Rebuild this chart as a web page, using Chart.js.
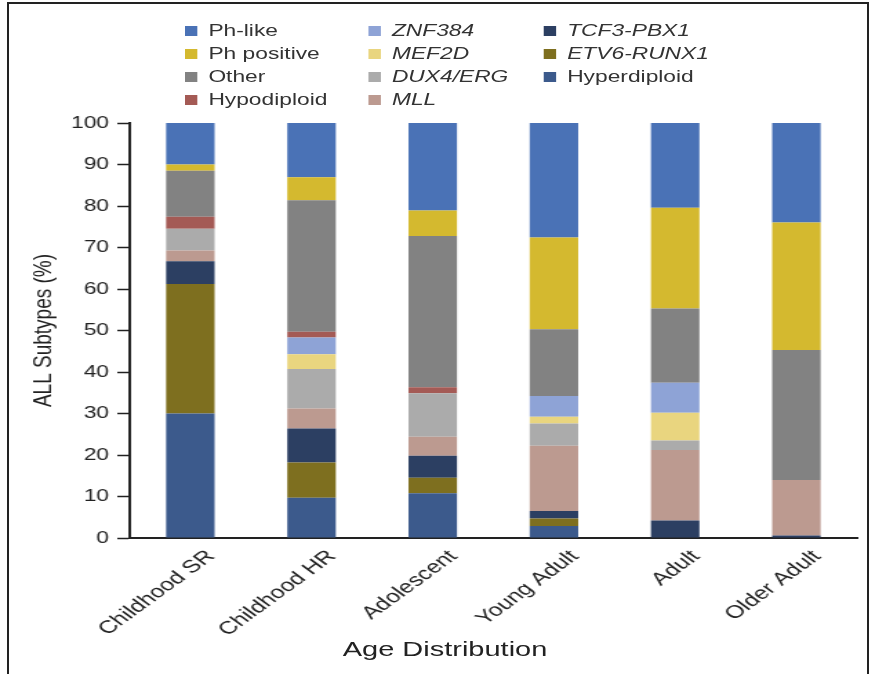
<!DOCTYPE html>
<html>
<head>
  <title>ALL Subtypes by Age</title>
  <script src="https://cdn.jsdelivr.net/npm/chart.js"></script>
  <style>
    body { margin: 0; background: #fff; overflow: hidden; }
    #frame { position: absolute; left: 7px; top: 2px; width: 858px; height: 720px; border: 2px solid #222; }
    /* the source figure is stretched horizontally, so the whole drawing is too */
    #wrap { position: absolute; left: 0; top: 0; width: 632px; height: 674px; transform: scaleX(1.38); transform-origin: 0 0; }
    #legend { position: absolute; left: 134px; top: 19px; display: grid; grid-template-rows: repeat(4, 23px);
      grid-auto-flow: column; grid-template-columns: 133px 127px 120px;
      font-family: "Liberation Sans", Arial, sans-serif; font-size: 16.5px; color: #333; }
    #legend div { display: flex; align-items: center; white-space: nowrap; }
    #legend span.box { width: 9px; height: 10px; margin-right: 8px; display: inline-block; }
    #xtitle { position: absolute; left: 0; width: 645px; top: 637px; text-align: center;
      font-family: "Liberation Sans", Arial, sans-serif; font-size: 21px; color: #222; }
  </style>
</head>
<body>
  <div id="frame"></div>
  <div id="wrap">
    <canvas id="subtypes" width="632" height="674"></canvas>
    <div id="legend"></div>
    <div id="xtitle">Age Distribution</div>
  </div>

  <script>
    // Age groups
    const categories = ['Childhood SR', 'Childhood HR', 'Adolescent', 'Young Adult', 'Adult', 'Older Adult'];

    // Percent of each subtype per age group
    const hyperdiploid = [30, 9.7, 10.8, 2.9, 0, 0];
    const etv6Runx1    = [31.2, 8.5, 3.7, 1.8, 0, 0];
    const tcf3Pbx1     = [5.5, 8.2, 5.3, 1.8, 4.2, 0.6];
    const mll          = [2.6, 4.8, 4.6, 15.7, 17, 13.4];
    const dux4Erg      = [5.2, 9.5, 10.5, 5.4, 2.3, 0];
    const mef2d        = [0, 3.6, 0, 1.6, 6.7, 0];
    const znf384       = [0, 4, 0, 5, 7.2, 0];
    const hypodiploid  = [2.9, 1.4, 1.4, 0, 0, 0];
    const other        = [11.1, 31.7, 36.5, 16.1, 17.9, 31.3];
    const phPositive   = [1.5, 5.5, 6.1, 22.1, 24.3, 30.7];
    const phLike       = [10, 13.1, 21.1, 27.6, 20.4, 24];

    const yTicks = [0, 10, 20, 30, 40, 50, 60, 70, 80, 90, 100];

    // stacking order, bottom to top
    const series = [
      { label: 'Hyperdiploid', data: hyperdiploid, color: '#3c5a8c', italic: false },
      { label: 'ETV6-RUNX1', data: etv6Runx1, color: '#7e6f1f', italic: true },
      { label: 'TCF3-PBX1', data: tcf3Pbx1, color: '#2c3f62', italic: true },
      { label: 'MLL', data: mll, color: '#bc9a90', italic: true },
      { label: 'DUX4/ERG', data: dux4Erg, color: '#ababab', italic: true },
      { label: 'MEF2D', data: mef2d, color: '#e9d57f', italic: true },
      { label: 'ZNF384', data: znf384, color: '#8ea3d6', italic: true },
      { label: 'Hypodiploid', data: hypodiploid, color: '#a45a55', italic: false },
      { label: 'Other', data: other, color: '#828282', italic: false },
      { label: 'Ph positive', data: phPositive, color: '#d4b92f', italic: false },
      { label: 'Ph-like', data: phLike, color: '#4a72b6', italic: false },
    ];

    // legend, filled column by column
    const legendOrder = ['Ph-like', 'Ph positive', 'Other', 'Hypodiploid',
                         'ZNF384', 'MEF2D', 'DUX4/ERG', 'MLL',
                         'TCF3-PBX1', 'ETV6-RUNX1', 'Hyperdiploid'];
    const legend = document.getElementById('legend');
    legendOrder.forEach(name => {
      const s = series.find(d => d.label === name);
      const item = document.createElement('div');
      item.innerHTML = '<span class="box" style="background:' + s.color + '"></span>' +
        '<span style="font-style:' + (s.italic ? 'italic' : 'normal') + '">' + s.label + '</span>';
      legend.appendChild(item);
    });

    const font = { family: '"Liberation Sans", Arial, sans-serif' };

    new Chart(document.getElementById('subtypes'), {
      type: 'bar',
      data: {
        labels: categories,
        datasets: series.map(s => ({
          label: s.label,
          data: s.data,
          backgroundColor: s.color,
          borderWidth: 0,
          categoryPercentage: 1.0,
          barPercentage: 0.4,
        })),
      },
      options: {
        responsive: false,
        animation: false,
        layout: { padding: { top: 123, right: 11, left: 0, bottom: 0 } },
        plugins: { legend: { display: false }, tooltip: { enabled: false } },
        scales: {
          x: {
            stacked: true,
            grid: { display: false },
            border: { display: true, color: '#222', width: 2 },
            ticks: {
              color: '#222', font: { ...font, size: 18 },
              minRotation: 45, maxRotation: 45, labelOffset: 15, padding: 0,
            },
            afterFit: s => { s.height = 136; },
          },
          y: {
            stacked: true,
            min: 0, max: 100,
            afterBuildTicks: s => { s.ticks = yTicks.map(v => ({ value: v })); },
            grid: { drawOnChartArea: false, drawTicks: true, tickLength: 9, tickColor: '#222', tickWidth: 1.5 },
            border: { display: true, color: '#222', width: 2 },
            ticks: { color: '#222', font: { ...font, size: 16.5 }, padding: 6 },
            title: {
              display: true, text: 'ALL Subtypes (%)', color: '#222',
              font: { ...font, size: 19 }, padding: { top: 20, bottom: 0 },
            },
            afterFit: s => { s.width = 94; },
          },
        },
      },
    });
  </script>
</body>
</html>
